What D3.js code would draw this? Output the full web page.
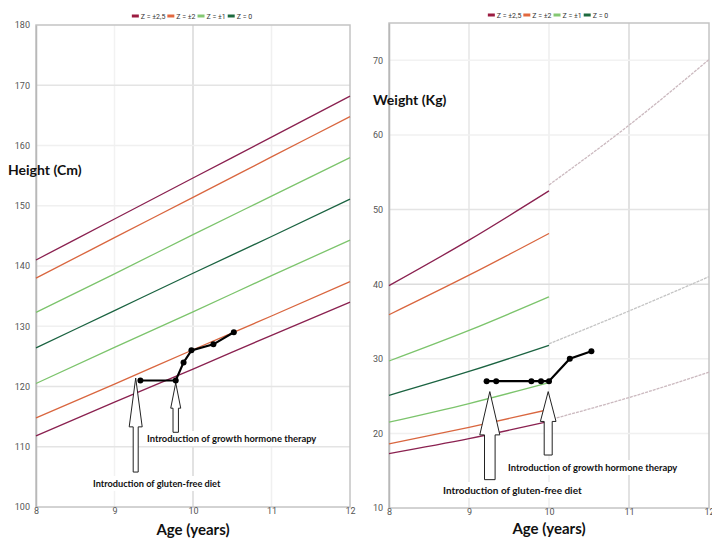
<!DOCTYPE html>
<html>
<head>
<meta charset="utf-8">
<script src="https://cdn.jsdelivr.net/npm/d3@7"></script>
<style>
  body { margin: 0; background: #fff; }
  svg { display: block; }
  .tick text { font-family: Roboto, sans-serif; font-size: 9px; fill: #555; }
  .title { font-family: Lato, sans-serif; font-weight: bold; fill: #111; }
  .note { font-family: Lato, sans-serif; font-weight: bold; fill: #111; }
  .legend text { font-family: Roboto, sans-serif; font-size: 7px; fill: #333; }
</style>
</head>
<body>
<div id="chart"></div>
<script>
const svgWidth = 712
const svgHeight = 539

// reference curves, height chart
const ages = [8, 9, 10, 11, 12]
const heightPlus25 = [141, 147.8, 154.6, 161.4, 168.2]
const heightPlus2 = [138, 144.7, 151.4, 158.1, 164.8]
const heightPlus1 = [132.3, 138.7, 145.2, 151.6, 158]
const heightZero = [126.4, 132.6, 138.8, 144.9, 151.1]
const heightMinus1 = [120.5, 126.5, 132.4, 138.4, 144.3]
const heightMinus2 = [114.8, 120.4, 126.1, 131.7, 137.4]
const heightMinus25 = [111.8, 117.4, 122.9, 128.5, 134]

// reference curves, weight chart (solid part 8-10, grey continuation 10-12)
const weightAges = [8, 9, 10]
const weightPlus25 = [39.8, 45.9, 52.5]
const weightPlus2 = [35.9, 41.2, 46.8]
const weightPlus1 = [29.7, 33.8, 38.3]
const weightZero = [25.1, 28.3, 31.8]
const weightMinus1 = [21.5, 24.0, 26.8]
const weightMinus2 = [18.6, 20.8, 23.2]
const weightMinus25 = [17.3, 19.3, 21.6]
const extAges = [10, 11, 12]
const weightPlus25Ext = [53.3, 61.3, 70.1]
const weightZeroExt = [32, 36.4, 41]
const weightMinus25Ext = [21.8, 24.8, 28.2]

// patient
const patientHeightAges = [9.33, 9.78, 9.88, 9.98, 10.26, 10.52]
const patientHeights = [121, 121, 124, 126, 127, 129]
const patientWeightAges = [9.22, 9.34, 9.78, 9.9, 10.0, 10.26, 10.53]
const patientWeights = [27, 27, 27, 27, 27, 30, 31]

const xTicks = [8, 9, 10, 11, 12]
const legendLabels = ["Z = \u00b12,5", "Z = \u00b12", "Z = \u00b11", "Z = 0"]
const legendColors = ["#9b1b40", "#e2683f", "#84c873", "#1d6a3e"]

const colPurple = "#8a2150"
const colOrange = "#d9663f"
const colGreen = "#7cc46c"
const colDark = "#1b6341"

const svg = d3.select("#chart").append("svg")
  .attr("width", svgWidth)
  .attr("height", svgHeight)

function drawChart(opt) {
  const x = d3.scaleLinear().domain([8, 12]).range([opt.left, opt.right])
  const y = d3.scaleLinear().domain(opt.yDomain).range([opt.bottom, opt.top])
  const g = svg.append("g")

  // grid
  g.selectAll(".vgrid").data(opt.xGrid).enter().append("line")
    .attr("x1", d => x(d[0])).attr("x2", d => x(d[0]))
    .attr("y1", opt.top).attr("y2", opt.bottom)
    .attr("stroke", d => d[1]).attr("stroke-width", 1.5)
  g.selectAll(".hgrid").data(opt.yGrid).enter().append("line")
    .attr("y1", d => y(d[0])).attr("y2", d => y(d[0]))
    .attr("x1", opt.left).attr("x2", opt.right)
    .attr("stroke", d => d[1]).attr("stroke-width", 1.5)

  // border
  g.append("rect")
    .attr("x", opt.left).attr("y", opt.top)
    .attr("width", opt.right - opt.left).attr("height", opt.bottom - opt.top)
    .attr("fill", "none").attr("stroke", "#c4c4c4").attr("stroke-width", 1.5)

  // axes
  const yAxis = d3.axisLeft(y).tickValues(opt.yTicks).tickSize(0).tickPadding(6)
  g.append("g").attr("transform", `translate(${opt.left},0)`).call(yAxis)
    .call(a => a.select(".domain").attr("stroke", "#b8b8b8").attr("stroke-width", 1.5))
  const xAxis = d3.axisBottom(x).tickValues(xTicks).tickFormat(d3.format("d"))
    .tickSize(0).tickPadding(1)
  g.append("g").attr("transform", `translate(0,${opt.bottom})`).call(xAxis)
    .call(a => a.select(".domain").remove())

  const line = d3.line().x(d => x(d[0])).y(d => y(d[1])).curve(d3.curveMonotoneX)

  opt.curves.forEach(c => {
    g.append("path")
      .datum(c.ages.map((a, i) => [a, c.values[i]]))
      .attr("d", line)
      .attr("fill", "none")
      .attr("stroke", c.color)
      .attr("stroke-width", 1.3)
      .attr("stroke-dasharray", c.dash || null)
  })

  // annotation labels with white backing
  opt.notes.forEach(n => {
    const t = g.append("text").attr("class", "note")
      .attr("x", n.x).attr("y", n.y).style("font-size", n.size + "px").text(n.text)
    const bb = t.node().getBBox()
    g.insert("rect", "text.note")
      .attr("x", bb.x - 3).attr("y", bb.y - 2)
      .attr("width", bb.width + 6).attr("height", bb.height + 4)
      .attr("fill", "#fff")
  })

  // hollow arrows
  opt.arrows.forEach(a => {
    const cx = x(a.age)
    const tip = y(a.tip), base = y(a.base), end = y(a.end)
    const pts = [
      [cx, tip], [cx + a.head, base], [cx + a.shaft, base], [cx + a.shaft, end],
      [cx - a.shaft, end], [cx - a.shaft, base], [cx - a.head, base]
    ]
    g.append("path")
      .attr("d", d3.line()(pts) + "Z")
      .attr("fill", "#fff")
      .attr("stroke", "#222")
      .attr("stroke-width", 1)
  })

  // patient line
  const pts = opt.patientAges.map((a, i) => [a, opt.patientValues[i]])
  g.append("path").datum(pts)
    .attr("d", d3.line().x(d => x(d[0])).y(d => y(d[1])))
    .attr("fill", "none").attr("stroke", "#000").attr("stroke-width", 2.2)
  g.selectAll(".pt").data(pts).enter().append("circle")
    .attr("cx", d => x(d[0])).attr("cy", d => y(d[1]))
    .attr("r", 3).attr("fill", "#000")

  // titles
  g.append("text").attr("class", "title")
    .attr("x", opt.yTitleX).attr("y", opt.yTitleY)
    .style("font-size", "14px").text(opt.yTitle)
  g.append("text").attr("class", "title")
    .attr("x", (opt.left + opt.right) / 2).attr("y", opt.xTitleY)
    .attr("text-anchor", "middle")
    .style("font-size", "15px").text("Age (years)")

  // legend
  const lg = g.append("g").attr("class", "legend")
  let lx = 0
  legendLabels.forEach((l, i) => {
    lg.append("line").attr("x1", lx).attr("x2", lx + 7).attr("y1", 0).attr("y2", 0)
      .attr("stroke", legendColors[i]).attr("stroke-width", 3)
    const t = lg.append("text").attr("x", lx + 9).attr("y", 2.5).text(l)
    lx += 9 + t.node().getComputedTextLength() + 2
  })
  lg.attr("transform", `translate(${(opt.left + opt.right) / 2 - lx / 2},${opt.legendY})`)
}

drawChart({
  left: 36, right: 350, top: 25, bottom: 507,
  yDomain: [100, 180],
  yTicks: [100, 110, 120, 130, 140, 150, 160, 170, 180],
  xGrid: [[9, "#f2f2f2"], [10, "#d9d9d9"], [11, "#f0f0f0"]],
  yGrid: [[110, "#e4e4e4"], [120, "#e4e4e4"], [130, "#f0f0f0"], [140, "#f0f0f0"],
          [150, "#f0f0f0"], [160, "#f0f0f0"], [170, "#e4e4e4"]],
  curves: [
    { ages: ages, values: heightPlus25, color: colPurple },
    { ages: ages, values: heightPlus2, color: colOrange },
    { ages: ages, values: heightPlus1, color: colGreen },
    { ages: ages, values: heightZero, color: colDark },
    { ages: ages, values: heightMinus1, color: colGreen },
    { ages: ages, values: heightMinus2, color: colOrange },
    { ages: ages, values: heightMinus25, color: colPurple }
  ],
  arrows: [
    { age: 9.27, tip: 121.4, base: 113.3, end: 105.8, head: 6.5, shaft: 2.5 },
    { age: 9.78, tip: 120.6, base: 116.4, end: 112.4, head: 5, shaft: 2.7 }
  ],
  notes: [
    { x: 147, y: 442, size: 9.4, text: "Introduction of growth hormone therapy" },
    { x: 93, y: 487, size: 9.2, text: "Introduction of gluten-free diet" }
  ],
  patientAges: patientHeightAges, patientValues: patientHeights,
  yTitle: "Height (Cm)", yTitleX: 8, yTitleY: 175,
  xTitleY: 535, legendY: 16
})

drawChart({
  left: 389, right: 709, top: 23, bottom: 508,
  yDomain: [10, 75],
  yTicks: [10, 20, 30, 40, 50, 60, 70],
  xGrid: [[9, "#e6e6e6"], [10, "#eeeeee"], [11, "#d9d9d9"]],
  yGrid: [[20, "#f0f0f0"], [30, "#eeeeee"], [40, "#dcdcdc"], [50, "#e4e4e4"],
          [60, "#f0f0f0"], [70, "#f2f2f2"]],
  curves: [
    { ages: weightAges, values: weightPlus25, color: colPurple },
    { ages: weightAges, values: weightPlus2, color: colOrange },
    { ages: weightAges, values: weightPlus1, color: colGreen },
    { ages: weightAges, values: weightZero, color: colDark },
    { ages: weightAges, values: weightMinus1, color: colGreen },
    { ages: weightAges, values: weightMinus2, color: colOrange },
    { ages: weightAges, values: weightMinus25, color: colPurple },
    { ages: extAges, values: weightPlus25Ext, color: "#cbb9bf", dash: "3,1" },
    { ages: extAges, values: weightZeroExt, color: "#c4c4c4", dash: "3,1" },
    { ages: extAges, values: weightMinus25Ext, color: "#cbb9bf", dash: "3,1" }
  ],
  arrows: [
    { age: 9.26, tip: 25.6, base: 19.8, end: 13.8, head: 10, shaft: 5.3 },
    { age: 9.99, tip: 25.6, base: 21.6, end: 17.1, head: 7.8, shaft: 4 }
  ],
  notes: [
    { x: 508, y: 471, size: 9.4, text: "Introduction of growth hormone therapy" },
    { x: 443, y: 494, size: 10, text: "Introduction of gluten-free diet" }
  ],
  patientAges: patientWeightAges, patientValues: patientWeights,
  yTitle: "Weight (Kg)", yTitleX: 373, yTitleY: 105,
  xTitleY: 534, legendY: 15
})
</script>
</body>
</html>
